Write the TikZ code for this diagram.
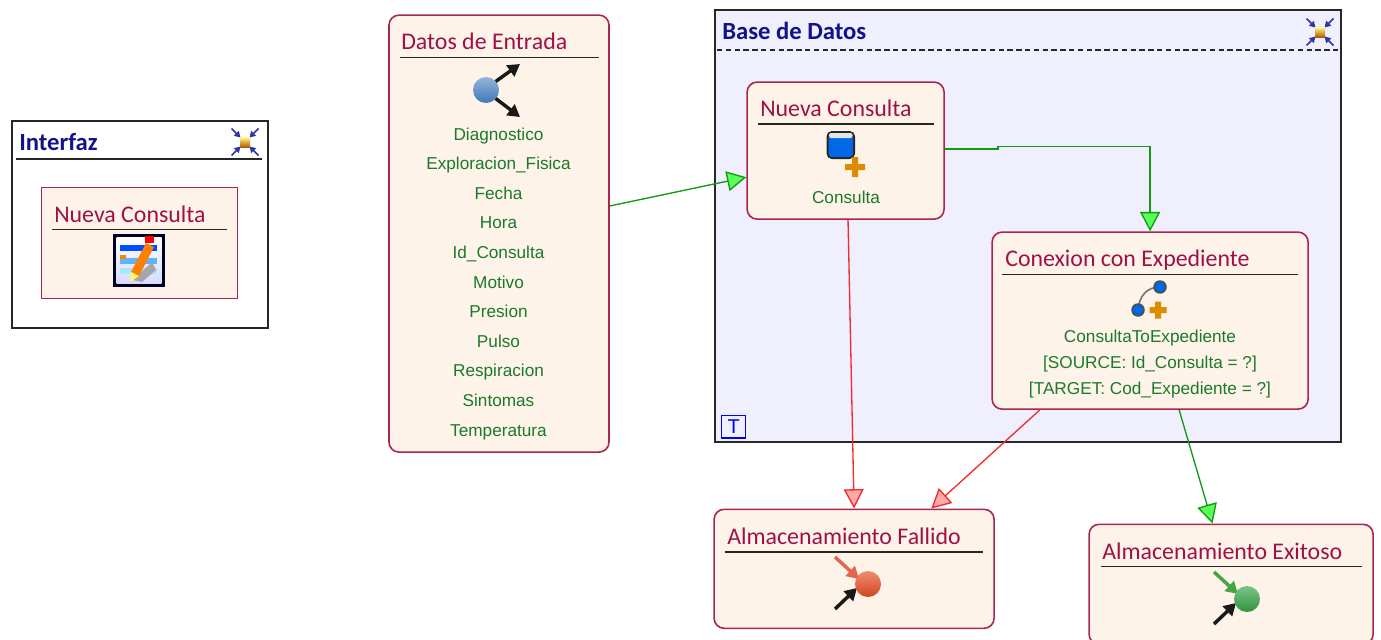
\documentclass[tikz,border=0pt]{standalone}
\usepackage{fontspec}
\setmainfont{Carlito}
\newfontfamily\attrfont{Liberation Sans}
\usetikzlibrary{arrows.meta}
\definecolor{boxfill}{HTML}{FEF3E9}
\definecolor{boxline}{HTML}{A8264F}
\definecolor{titlered}{HTML}{A01048}
\definecolor{attrgreen}{HTML}{1A7A2A}
\definecolor{navytext}{HTML}{12128A}
\definecolor{regionfill}{HTML}{EFEFFD}
\definecolor{flowgreen}{HTML}{129A12}
\definecolor{flowred}{HTML}{F52A2A}
\definecolor{plusorange}{HTML}{E08A00}
\definecolor{ballblue}{HTML}{3F78B8}
\definecolor{ballred}{HTML}{E84E22}
\definecolor{ballgreen}{HTML}{37A347}
\definecolor{tipred}{HTML}{E2654E}
\definecolor{tipgreen}{HTML}{45A545}
\tikzset{
    statebox/.style={draw=boxline,fill=boxfill,line width=1.2pt,rounded corners=7.5pt,anchor=north west,inner sep=0pt},
    viewbox/.style={statebox,rounded corners=0pt},
    regionbox/.style={draw=black!85,line width=1.3pt,anchor=north west,inner sep=0pt},
    titletext/.style={anchor=base west,inner sep=0pt,text=titlered,font=\fontsize{17.9}{20}\selectfont},
    regiontext/.style={anchor=base west,inner sep=0pt,text=navytext,font=\bfseries\fontsize{18.5}{20}\selectfont},
    attrtext/.style={anchor=base,inner sep=0pt,text=attrgreen,font=\attrfont\fontsize{12.9}{15}\selectfont},
    titlerule/.style={draw=black!85,line width=1pt},
    okflow/.style={draw=flowgreen,line width=1pt,-{Triangle[length=14.5pt,width=15pt,fill=green!100!black!65!white]}},
    badflow/.style={draw=flowred,line width=1pt,-{Triangle[length=14.5pt,width=15pt,fill=flowred!40]}},
    blacktip/.style={-{Triangle[length=9pt,width=10pt]},line width=2.6pt,draw=black!90}
}
\newcommand{\collapseicon}[2]{%
    \begin{scope}[shift={(#1,#2)}]
        \foreach \sx/\sy in {-1/-1,1/-1,-1/1,1/1}
            \draw[-{Triangle[length=4.5pt,width=5pt]},line width=1.1pt,draw=blue!55!black!80] (13.5*\sx,13.5*\sy) -- (4.5*\sx,4.5*\sy);
        \shade[top color=yellow!45!white,bottom color=orange!70!black] (-5,-5) rectangle (5,5);
    \end{scope}}
\newcommand{\plusicon}[3]{%
    \fill[plusorange] (#1-#3,#2-3) rectangle (#1+#3,#2+3) (#1-3,#2-#3) rectangle (#1+3,#2+#3);}
\newcommand{\finalicon}[4]{%
    \begin{scope}[shift={(#1,#2)}]
        \draw[-{Triangle[length=9pt,width=10pt]},line width=2.6pt,draw=#3] (-33,-27) -- (-9,-5);
        \draw[blacktip] (-33,25) -- (-11,4);
        \shade[top color=#4!65!white,middle color=#4,bottom color=#4!90!black] (0,0) circle (13);
    \end{scope}}
\begin{document}
\begin{tikzpicture}[x=0.75pt,y=-0.75pt]
    \clip (0,0) rectangle (1381,639);
    \useasboundingbox (0,0) rectangle (1381,639);
    %% Interfaz
    \node[regionbox,fill=white,minimum width=192pt,minimum height=155.25pt] (interfaz) at (11,120) {};
    \node[regiontext] (interfazt) at (19,150) {Interfaz};
    \draw[titlerule] (16,159) -- (262,159);
    \collapseicon{245}{142}
    \node[viewbox,minimum width=147pt,minimum height=83.25pt] (vista) at (40.5,186.5) {};
    \node[titletext] (vistat) at (54,222) {Nueva Consulta};
    \draw[titlerule] (52,229.5) -- (227,229.5);
    %% edit icon
    \fill[black!85!blue] (113,234) rectangle (165,287);
    \shade[top color=white,bottom color=blue!15] (116.5,237.5) rectangle (161.5,283.5);
    \fill[blue!70!cyan] (120,245) rectangle (157,251);
    \fill[blue!45!cyan!65] (120,258) rectangle (157,264);
    \fill[orange] (120,255) rectangle (126,259);
    \fill[blue!25!cyan!35] (120,268) rectangle (157,274);
    \fill[black!35] (133,280) -- (152,262) -- (156,270) -- (142,282) -- cycle;
    \fill[orange] (146,243) -- (154,247) -- (139,276) -- (131,272) -- cycle;
    \fill[red] (145,236) rectangle (154,243);
    \fill[yellow!60] (131,272) -- (139,276) -- (130,282) -- cycle;
    %% Datos de Entrada
    \node[statebox,minimum width=165pt,minimum height=327.75pt] (datos) at (388.2,14.3) {};
    \node[titletext] (datost) at (401,49) {Datos de Entrada};
    \draw[titlerule] (400,57.5) -- (599,57.5);
    \draw[blacktip] (495,82) -- (520,64);
    \draw[blacktip] (495,98) -- (520,117);
    \shade[top color=ballblue!55!white,middle color=ballblue!90!white,bottom color=ballblue] (486,90) circle (13);
    \foreach \txt [count=\i from 0] in {Diagnostico,Exploracion\_Fisica,Fecha,Hora,Id\_Consulta,Motivo,Presion,Pulso,Respiracion,Sintomas,Temperatura}
        \node[attrtext] (attr\i) at (498.5,140+29.6*\i) {\txt};
    %% Base de Datos
    \node[regionbox,fill=regionfill,minimum width=469.5pt,minimum height=324pt] (base) at (714,9) {};
    \node[regiontext] (baset) at (722,39) {Base de Datos};
    \draw[titlerule,dash pattern=on 4pt off 2.6pt] (717,50) -- (1339,50);
    \collapseicon{1320}{32}
    \node[draw=blue,line width=1pt,text=blue,minimum width=18pt,minimum height=17pt,inner sep=0pt,anchor=north west,font=\attrfont\fontsize{15}{15}\selectfont] (tag) at (721,414.5) {T};
    %% Nueva Consulta
    \node[statebox,minimum width=147.75pt,minimum height=102.75pt] (nueva) at (746.3,81.3) {};
    \node[titletext] (nuevat) at (760,116) {Nueva Consulta};
    \draw[titlerule] (758,124) -- (934,124);
    \fill[black!85,rounded corners=4pt] (826.5,131) rectangle (855,159);
    \fill[blue!55!cyan!90!black,rounded corners=2.5pt] (828.5,135) rectangle (853,157);
    \fill[black!10,rounded corners=1.5pt] (829,133) rectangle (852.5,138);
    \plusicon{855}{167}{10}
    \node[attrtext] (nuevaa) at (846,203) {Consulta};
    %% Conexion con Expediente
    \node[statebox,minimum width=237pt,minimum height=132.75pt] (conexion) at (991.3,231.3) {};
    \node[titletext] (conexiont) at (1005,266) {Conexion con Expediente};
    \draw[titlerule] (1002,274.5) -- (1298,274.5);
    \draw[black!55,line width=1.2pt] (1138,310) .. controls (1139,296) and (1147,287) .. (1160,287);
    \filldraw[fill=blue!55!cyan!90!black,draw=black!70,line width=1.1pt] (1138,310) circle (6) (1160,287) circle (6);
    \plusicon{1158}{310}{8.5}
    \node[attrtext] (conexiona) at (1150,342) {ConsultaToExpediente};
    \node[attrtext] (conexionb) at (1150,368) {[SOURCE: Id\_Consulta = ?]};
    \node[attrtext] (conexionc) at (1150,394) {[TARGET: Cod\_Expediente = ?]};
    %% Final states
    \node[statebox,minimum width=210pt,minimum height=89.25pt] (fallido) at (713.3,508.5) {};
    \node[titletext] (fallidot) at (727,544) {Almacenamiento Fallido};
    \draw[titlerule] (725,552) -- (983,552);
    \finalicon{868}{584}{tipred}{ballred}
    \node[statebox,minimum width=213pt,minimum height=90pt] (exitoso) at (1088.3,523.5) {};
    \node[titletext] (exitosot) at (1102,559) {Almacenamiento Exitoso};
    \draw[titlerule] (1101,566.5) -- (1362,566.5);
    \finalicon{1247}{599}{tipgreen}{ballgreen}
    %% Flows
    \coordinate (jog) at (998,146.5);
    \draw[okflow] (datos.14) -- (nueva.195.6);
    \draw[okflow] (nueva.1) -- (jog |- nueva.1) -- (jog) -| (conexion.north);
    \draw[okflow] (conexion.-72.4) -- (exitoso.107.4);
    \draw[badflow] (nueva.-88) -- (fallido.90);
    \draw[badflow] (conexion.219.6) -- (fallido.38.8);
\end{tikzpicture}
\end{document}
